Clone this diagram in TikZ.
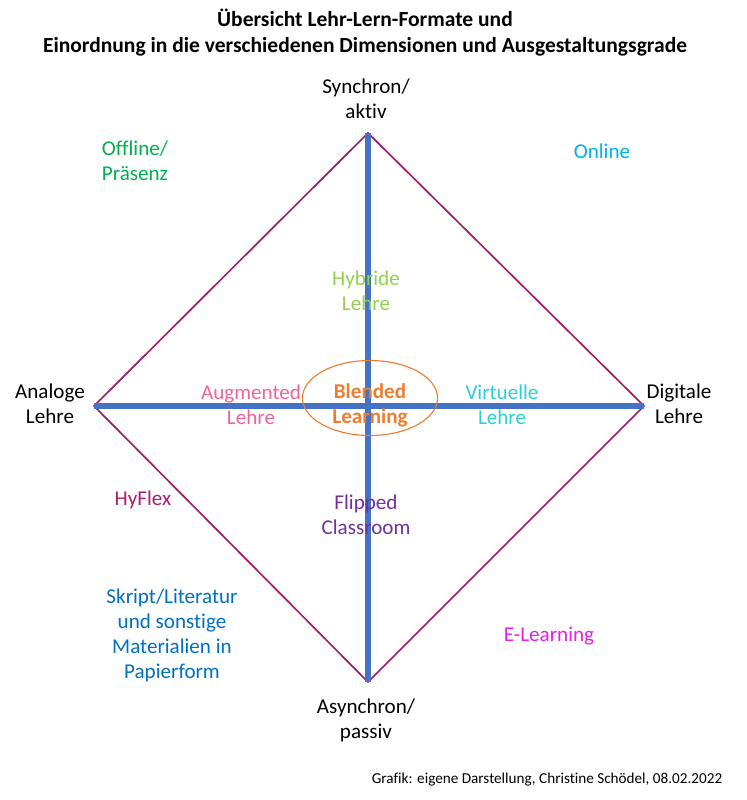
\documentclass[tikz,border=0pt]{standalone}
\usepackage{fontspec}
\setmainfont{Carlito}[Ligatures=NoCommon]
\usetikzlibrary{positioning, shapes.geometric}

\definecolor{framecol}{RGB}{160,30,100}
\definecolor{axiscol}{RGB}{68,114,196}
\definecolor{blendcol}{RGB}{237,125,49}
\definecolor{offlinecol}{RGB}{0,176,80}
\definecolor{onlinecol}{RGB}{0,176,240}
\definecolor{hybridcol}{RGB}{146,208,80}
\definecolor{augmentcol}{RGB}{240,100,150}
\definecolor{virtcol}{RGB}{40,210,210}
\definecolor{hyflexcol}{RGB}{170,30,110}
\definecolor{flippedcol}{RGB}{112,48,160}
\definecolor{skriptcol}{RGB}{0,112,192}
\definecolor{elearncol}{RGB}{230,30,230}

\begin{document}
\begin{tikzpicture}[
    x=0.025cm, y=-0.025cm,
    pole/.style={align=center, inner sep=0pt, font=\fontsize{15}{17.8}\selectfont},
    format/.style={pole, text=#1},
    axis/.style={axiscol, line width=0.15cm},
    frame/.style={framecol, line width=1.2pt}
  ]
    \useasboundingbox (0,0) rectangle (747,800);

    % Title
    \node[align=center, inner sep=0pt, font=\bfseries\fontsize{15.3}{18.5}\selectfont] (title) at (365,33)
      {Übersicht Lehr-Lern-Formate und\\Einordnung in die verschiedenen Dimensionen und Ausgestaltungsgrade};

    % Corner points of the diamond
    \coordinate (top) at (368,133);
    \coordinate (left) at (94,406);
    \coordinate (right) at (644,406);
    \coordinate (bottom) at (368,682);

    % Axes and diamond
    \draw[frame] (top) -- (right) -- (bottom) -- (left) -- cycle;
    \draw[axis] (top) -- (bottom);
    \draw[axis] (left) -- (right);

    % Blended Learning in the middle
    \node[draw=blendcol, thick, ellipse, minimum width=3.375cm, minimum height=1.875cm] (blendring) at (370,398) {};
    \node[format=blendcol, font=\bfseries\fontsize{15}{17.8}\selectfont] (blended) at (370,405) {Blended\\Learning};

    % Poles of the dimensions
    \node[pole] (synchron) at (366,99) {Synchron/\\aktiv};
    \node[pole] (asynchron) at (366,720) {Asynchron/\\passiv};
    \node[pole] (analog) at (50,404) {Analoge\\Lehre};
    \node[pole] (digital) at (679,404) {Digitale\\Lehre};

    % Formats
    \node[format=offlinecol] (offline) at (135,161) {Offline/\\Präsenz};
    \node[format=onlinecol] (online) at (602,151) {Online};
    \node[format=hybridcol] (hybrid) at (366,291) {Hybride\\Lehre};
    \node[format=augmentcol] (augmented) at (251,405) {Augmented\\Lehre};
    \node[format=virtcol] (virtual) at (502,405) {Virtuelle\\Lehre};
    \node[format=hyflexcol] (hyflex) at (143,500) {HyFlex};
    \node[format=flippedcol] (flipped) at (366,515) {Flipped\\Classroom};
    \node[format=skriptcol] (skript) at (172,635) {Skript/Literatur\\und sonstige\\Materialien in\\Papierform};
    \node[format=elearncol] (elearning) at (549,636) {E-Learning};

    % Source
    \node[inner sep=0pt, font=\fontsize{10.8}{12}\selectfont] (credit) at (547,780)
      {Grafik: eigene Darstellung, Christine Schödel, 08.02.2022};
  \end{tikzpicture}
\end{document}
